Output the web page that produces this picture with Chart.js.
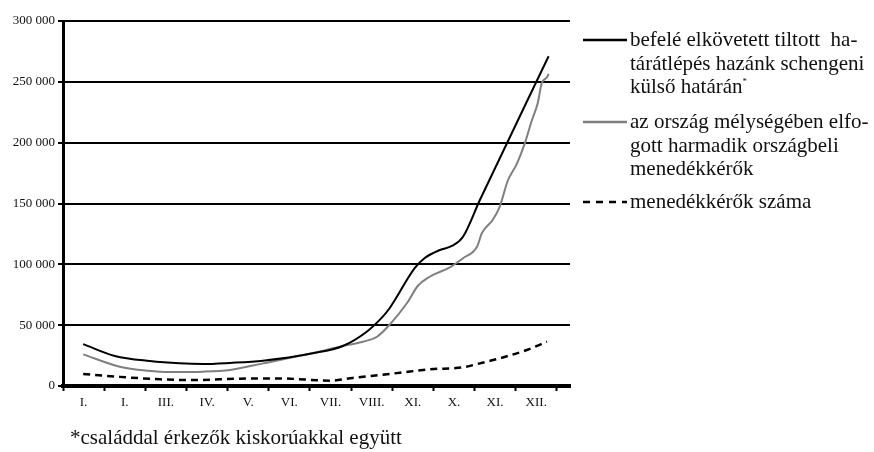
<!DOCTYPE html>
<html>
<head>
<meta charset="utf-8">
<script src="https://cdn.jsdelivr.net/npm/chart.js@4"></script>
<style>
  body { margin: 0; background: #fff; }
  #wrap { position: relative; width: 874px; height: 452px; font-family: "Liberation Serif", serif; color: #111; }
  #graph { position: absolute; left: 0; top: 0; }
  .leg { position: absolute; left: 583px; display: flex; align-items: flex-start; font-size: 21px; line-height: 23.5px; }
  .leg svg { flex: none; margin-top: 10px; }
  .leg div { margin-left: 3px; white-space: nowrap; }
  .leg sup { font-size: 9px; vertical-align: 9px; line-height: 0; }
  #note { position: absolute; left: 70px; top: 425px; font-size: 21px; line-height: 24px; white-space: nowrap; }
</style>
</head>
<body>
<div id="wrap">
  <canvas id="graph" width="874" height="452"></canvas>
  <div class="leg" style="top:28px">
    <svg width="44" height="4"><line x1="0" y1="2" x2="44" y2="2" stroke="#000" stroke-width="2.5"/></svg>
    <div>befelé elkövetett tiltott&nbsp; ha-<br>tárátlépés hazánk schengeni<br>külső határán<sup>*</sup></div>
  </div>
  <div class="leg" style="top:110px">
    <svg width="44" height="4"><line x1="0" y1="2" x2="44" y2="2" stroke="#7f7f7f" stroke-width="2.5"/></svg>
    <div>az ország mélységében elfo-<br>gott harmadik országbeli<br>menedékkérők</div>
  </div>
  <div class="leg" style="top:190px">
    <svg width="44" height="4"><line x1="0" y1="2" x2="44" y2="2" stroke="#000" stroke-width="2.5" stroke-dasharray="7 6"/></svg>
    <div>menedékkérők száma</div>
  </div>
  <div id="note">*családdal érkezők kiskorúakkal együtt</div>
</div>
<script>
// honapok (a tengely feliratai, ahogy az eredetin)
const honapok = ["I.", "I.", "III.", "IV.", "V.", "VI.", "VII.", "VIII.", "XI.", "X.", "XI.", "XII."];

// befelé elkövetett tiltott határátlépés (x = hónap-egység)
const hatarX = [0.49, 1.26, 2.11, 2.84, 3.40, 4.06, 4.86, 6.07, 6.80, 7.38, 7.77, 7.94, 8.55, 8.79, 9.16, 9.45, 9.72, 10.13, 11.80];
const hatarY = [34400, 24700, 20500, 18600, 18100, 19000, 20800, 26900, 32900, 44600, 57000, 64100, 97000, 105200, 111800, 115100, 122700, 152900, 271000];

// az ország mélységében elfogott harmadik országbeli menedékkérők
const mélyX = [0.49, 1.38, 2.06, 2.60, 3.40, 4.06, 4.86, 6.07, 6.80, 7.29, 7.63, 7.94, 8.36, 8.62, 8.91, 9.40, 9.72, 10.06, 10.18, 10.44, 10.61, 10.81, 11.03, 11.22, 11.39, 11.54, 11.63, 11.76, 11.80];
const mélyY = [26000, 15900, 12600, 11500, 11800, 13200, 18600, 27100, 32900, 36400, 40500, 50500, 68200, 82200, 89800, 97500, 105000, 114500, 125700, 136400, 147300, 168900, 182800, 199200, 218000, 233000, 248600, 253700, 256600];

// menedékkérők száma
const menedekX = [0.49, 1.38, 2.36, 3.16, 4.30, 5.27, 6.49, 7.04, 7.70, 8.19, 8.91, 9.72, 10.13, 10.61, 11.27, 11.76];
const menedekY = [9900, 7500, 5500, 4900, 6000, 6200, 4400, 6600, 9000, 10900, 13700, 15400, 18600, 22700, 29600, 36400];

function pontok(xs, ys) {
    return xs.map((x, i) => ({ x: x, y: ys[i] }));
}

const betu = { family: "'Liberation Serif', serif", size: 13 };

new Chart(document.getElementById('graph').getContext('2d'), {
    type: 'line',
    data: {
        datasets: [{
            label: 'befelé elkövetett tiltott határátlépés hazánk schengeni külső határán*',
            data: pontok(hatarX, hatarY),
            borderColor: '#000',
            borderWidth: 2,
            pointRadius: 0,
            cubicInterpolationMode: 'monotone'
        }, {
            label: 'az ország mélységében elfogott harmadik országbeli menedékkérők',
            data: pontok(mélyX, mélyY),
            borderColor: '#7f7f7f',
            borderWidth: 2,
            pointRadius: 0,
            cubicInterpolationMode: 'monotone'
        }, {
            label: 'menedékkérők száma',
            data: pontok(menedekX, menedekY),
            borderColor: '#000',
            borderWidth: 2.5,
            borderDash: [7, 5],
            pointRadius: 0,
            cubicInterpolationMode: 'monotone'
        }]
    },
    options: {
        responsive: false,
        animation: false,
        layout: { padding: { left: 0, right: 304, top: 21, bottom: 0 } },
        plugins: { legend: { display: false }, tooltip: { enabled: false } },
        scales: {
            x: {
                type: 'linear',
                min: 0,
                max: 12.32,
                afterBuildTicks: axis => {
                    axis.ticks = Array.from({ length: 25 }, (_, i) => ({ value: i / 2 }));
                },
                afterFit: axis => { axis.height = 66; },
                ticks: {
                    autoSkip: false,
                    maxRotation: 0,
                    padding: 4,
                    color: '#111',
                    font: betu,
                    callback: v => Number.isInteger(v) ? '' : honapok[Math.floor(v)]
                },
                grid: {
                    drawOnChartArea: false,
                    tickLength: 5,
                    tickWidth: 2,
                    tickColor: ctx => Number.isInteger(ctx.tick.value) ? '#000' : 'rgba(0,0,0,0)'
                },
                border: { color: '#000', width: 4 }
            },
            y: {
                min: 0,
                max: 300000,
                afterFit: axis => { axis.width = 63; },
                ticks: {
                    stepSize: 50000,
                    padding: 3,
                    color: '#111',
                    font: betu,
                    callback: v => v === 0 ? '0' : (v / 1000) + ' 000'
                },
                grid: { color: '#000', lineWidth: 2, tickLength: 5 },
                border: { color: '#000', width: 3 }
            }
        }
    }
});
</script>
</body>
</html>
